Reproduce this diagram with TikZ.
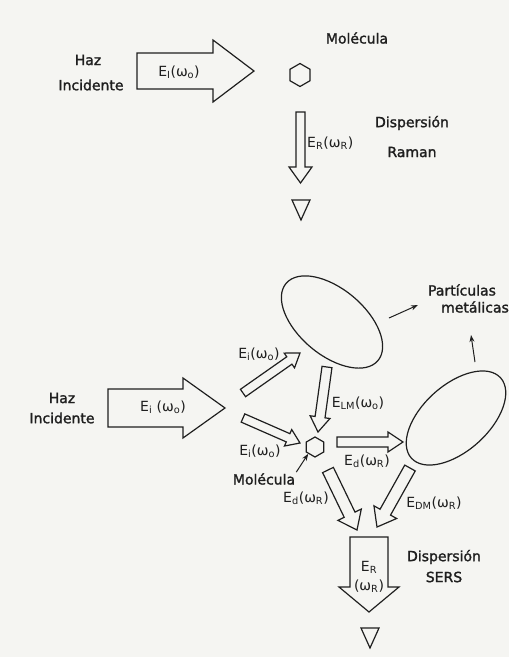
\documentclass[tikz,border=0pt]{standalone}
\usepackage{fontspec}
\setmainfont{DejaVu Sans}[BoldFont=DejaVu Sans,BoldFeatures={FakeBold=1.6}]
\usetikzlibrary{arrows.meta,calc,shapes.geometric}
\definecolor{InkClr}{rgb}{0.12,0.12,0.12}
\definecolor{PaperClr}{rgb}{0.96,0.96,0.95}

\newcommand{\FatArrow}[5]{%
  \coordinate (fh) at ($(#2)!#5!(#1)$);
  \draw[fat] ($(#1)!#3!90:(#2)$) -- ($(fh)!#3!90:(#2)$) -- ($(fh)!#4!90:(#2)$) -- (#2)
    -- ($(fh)!#4!-90:(#2)$) -- ($(fh)!#3!-90:(#2)$) -- ($(#1)!#3!-90:(#2)$) -- cycle;}
\newcommand{\Detector}[1]{%
  \draw[fat] ($(#1)+(-9,-10)$) -- ($(#1)+(9,-10)$) -- ($(#1)+(0,10)$) -- cycle;}

\begin{document}
\begin{tikzpicture}[x=1pt,y=-1pt,
  every node/.style={font=\fontsize{14}{16}\selectfont\bfseries,text=InkClr,inner sep=1pt},
  lbl/.style={font=\fontsize{14}{16}\selectfont},
  fat/.style={draw=InkClr,line width=1.2pt,line join=miter},
  particle/.style={draw=InkClr,line width=1.2pt,ellipse,minimum width=120pt,minimum height=66pt,inner sep=0pt},
  hexa/.style={draw=InkClr,line width=1.2pt,regular polygon,regular polygon sides=6,shape border rotate=30,inner sep=0pt},
  pointer/.style={draw=InkClr,line width=1pt,-{Stealth[length=7pt,width=5pt]}}]

\fill[PaperClr] (0,0) rectangle (509,657);
\useasboundingbox (0,0) rectangle (509,657);

\node (haz1) at (88,60) {Haz};
\node (inc1) at (91,85) {Incidente};
\coordinate (i1s) at (137,71);
\coordinate (i1e) at (254,71);
\FatArrow{i1s}{i1e}{18pt}{31pt}{41pt}
\node[lbl] (ei1) at (179,72) {E\textsubscript{I}(ω\textsubscript{o})};
\node (mol1t) at (357,38) {Molécula};
\node[hexa,minimum size=23pt] (mol1) at (300,75) {};
\coordinate (r1s) at (300.5,112);
\coordinate (r1e) at (300.5,183);
\FatArrow{r1s}{r1e}{4.5pt}{11.5pt}{16pt}
\node[lbl,anchor=west] (er1) at (306,143) {E\textsubscript{R}(ω\textsubscript{R})};
\node (disp1) at (412,123) {Dispersión};
\node (ram1) at (412,152) {Raman};
\coordinate (det1) at (301,210);
\Detector{det1}

\node (haz2) at (62,398) {Haz};
\node (inc2) at (62,418) {Incidente};
\coordinate (i2s) at (108,408);
\coordinate (i2e) at (225,408);
\FatArrow{i2s}{i2e}{19pt}{30pt}{42pt}
\node[lbl] (ei2) at (163,407) {E\textsubscript{i} (ω\textsubscript{o})};

\node[particle,rotate=-40] (pm1) at (332,322) {};
\node[particle,rotate=42] (pm2) at (456,418) {};
\node (part) at (462,290) {Partículas};
\node[anchor=west] (met) at (440,307) {metálicas};
\coordinate (p1a) at (389,318);
\coordinate (p1b) at (418,305);
\coordinate (p2a) at (475,362);
\coordinate (p2b) at (471,335);
\draw[pointer] (p1a) -- (p1b);
\draw[pointer] (p2a) -- (p2b);

\node[hexa,minimum size=20pt] (mol2) at (315,447) {};
\node (mol2t) at (264,479) {Molécula};
\draw[pointer] (mol2t.north east) -- (mol2.225);

\coordinate (a1s) at (243,393);
\coordinate (a1e) at (300,353);
\FatArrow{a1s}{a1e}{4.5pt}{9pt}{13pt}
\node[lbl] (ei3) at (259,354) {E\textsubscript{i}(ω\textsubscript{o})};
\coordinate (a2s) at (243,418);
\coordinate (a2e) at (300,443);
\FatArrow{a2s}{a2e}{4.5pt}{9pt}{13pt}
\node[lbl] (ei4) at (260,451) {E\textsubscript{i}(ω\textsubscript{o})};
\coordinate (lms) at (327,367);
\coordinate (lme) at (318,432);
\FatArrow{lms}{lme}{5pt}{10pt}{15pt}
\node[lbl] (elm) at (358,403) {E\textsubscript{LM}(ω\textsubscript{o})};
\coordinate (drs) at (337,442);
\coordinate (dre) at (403,442);
\FatArrow{drs}{dre}{5pt}{10pt}{15pt}
\node[lbl] (ed1) at (367,461) {E\textsubscript{d}(ω\textsubscript{R})};
\coordinate (dds) at (328,470);
\coordinate (dde) at (357,530);
\FatArrow{dds}{dde}{6pt}{13pt}{17pt}
\node[lbl] (ed2) at (306,498) {E\textsubscript{d}(ω\textsubscript{R})};
\coordinate (dms) at (410,468);
\coordinate (dme) at (377,527);
\FatArrow{dms}{dme}{6pt}{13pt}{17pt}
\node[lbl] (edm) at (434,503) {E\textsubscript{DM}(ω\textsubscript{R})};

\coordinate (rs) at (369,537);
\coordinate (re) at (369,612);
\FatArrow{rs}{re}{19pt}{30pt}{25pt}
\node[lbl] (er2) at (369,567) {E\textsubscript{R}};
\node[lbl] (er2w) at (369,586) {(ω\textsubscript{R})};
\node (disp2) at (444,557) {Dispersión};
\node (sers) at (444,577) {SERS};
\coordinate (det2) at (370,638);
\Detector{det2}

\end{tikzpicture}
\end{document}
